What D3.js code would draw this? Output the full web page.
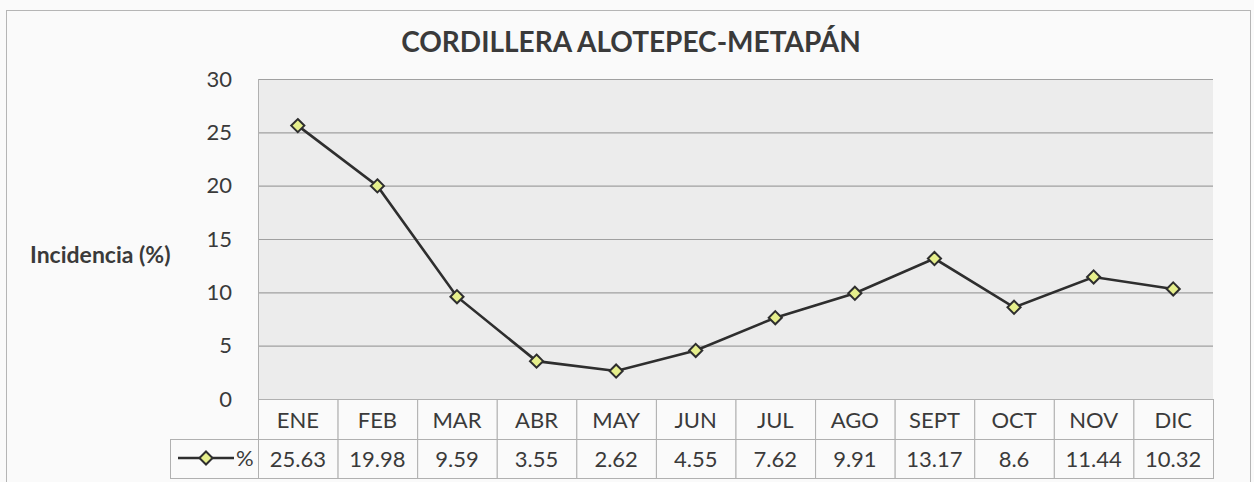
<!DOCTYPE html>
<html>
<head>
<meta charset="utf-8">
<script src="https://cdn.jsdelivr.net/npm/d3@7"></script>
<style>
  body { margin: 0; background: #fafafa; }
  text { font-family: Lato, "Open Sans", sans-serif; fill: #3a3a3a; }
</style>
</head>
<body>
<div id="chart"></div>
<script>
// months and incidence values
var months = ['ENE', 'FEB', 'MAR', 'ABR', 'MAY', 'JUN', 'JUL', 'AGO', 'SEPT', 'OCT', 'NOV', 'DIC'];
var incidencia = [25.63, 19.98, 9.59, 3.55, 2.62, 4.55, 7.62, 9.91, 13.17, 8.6, 11.44, 10.32];
var valueLabels = ['25.63', '19.98', '9.59', '3.55', '2.62', '4.55', '7.62', '9.91', '13.17', '8.6', '11.44', '10.32'];
var y_ticks = [0, 5, 10, 15, 20, 25, 30];

var width  = 1254;
var height = 482;
var plot_left = 258, plot_right = 1213, plot_top = 79, plot_bottom = 399;
var row_h = 40;

var svg = d3.select('#chart')
  .append('svg')
  .attr('width', width)
  .attr('height', height);

// chart frame
svg.append('rect')
  .attr('x', 6.5).attr('y', 10.5)
  .attr('width', 1244).attr('height', 480)
  .attr('fill', '#fafafa')
  .attr('stroke', '#b5b5b5');

var x_scale = d3.scaleBand()
  .domain(months)
  .range([plot_left, plot_right])
  .padding(0);

var y_scale = d3.scaleLinear()
  .domain([0, 30])
  .range([plot_bottom, plot_top]);

// plot background
svg.append('rect')
  .attr('x', plot_left).attr('y', plot_top)
  .attr('width', plot_right - plot_left)
  .attr('height', plot_bottom - plot_top)
  .attr('fill', '#ececec');

// gridlines
svg.append('g')
  .selectAll('line')
  .data(y_ticks)
  .enter()
  .append('line')
  .attr('x1', plot_left).attr('x2', plot_right)
  .attr('y1', function(d) { return y_scale(d) + 0.5; })
  .attr('y2', function(d) { return y_scale(d) + 0.5; })
  .attr('stroke', '#a0a0a0')
  .attr('stroke-width', 1.2);

svg.append('line')
  .attr('x1', plot_left + 0.5).attr('x2', plot_left + 0.5)
  .attr('y1', plot_top).attr('y2', plot_bottom)
  .attr('stroke', '#b0b0b0');

// y axis labels
var y_axis = d3.axisLeft(y_scale)
  .tickValues(y_ticks)
  .tickSize(0)
  .tickPadding(0);

var yg = svg.append('g')
  .attr('transform', 'translate(232,0)')
  .call(y_axis);
yg.select('.domain').remove();
yg.selectAll('text')
  .style('font-size', '22px')
  .style('font-family', 'Lato, "Open Sans", sans-serif')
  .attr('fill', '#3a3a3a');

// title
svg.append('text')
  .attr('x', 631).attr('y', 52)
  .attr('text-anchor', 'middle')
  .style('font-size', '28px')
  .style('font-weight', 'bold')
  .text('CORDILLERA ALOTEPEC-METAPÁN');

// y label
svg.append('text')
  .attr('x', 30).attr('y', 263)
  .style('font-size', '23px')
  .style('font-weight', 'bold')
  .text('Incidencia (%)');

// line
var line = d3.line()
  .x(function(d, i) { return x_scale(months[i]) + x_scale.bandwidth() / 2; })
  .y(function(d) { return y_scale(d); });

svg.append('path')
  .datum(incidencia)
  .attr('d', line)
  .attr('fill', 'none')
  .attr('stroke', '#2e2e2e')
  .attr('stroke-width', 2.6);

var diamond = d3.symbol().type(d3.symbolDiamond2).size(110);

svg.append('g')
  .selectAll('path')
  .data(incidencia)
  .enter()
  .append('path')
  .attr('d', diamond)
  .attr('transform', function(d, i) {
    return 'translate(' + (x_scale(months[i]) + x_scale.bandwidth() / 2) + ',' + y_scale(d) + ')';
  })
  .attr('fill', '#e6ef8c')
  .attr('stroke', '#2e2e2e')
  .attr('stroke-width', 2);

// data table
var table = svg.append('g');
var row1 = plot_bottom, row2 = plot_bottom + row_h, row3 = plot_bottom + 2 * row_h - 1;

table.selectAll('.cell-h')
  .data(months)
  .enter()
  .append('rect')
  .attr('x', function(d) { return x_scale(d) + 0.5; })
  .attr('y', row1 + 0.5)
  .attr('width', x_scale.bandwidth())
  .attr('height', row_h)
  .attr('fill', '#fafafa')
  .attr('stroke', '#b0b0b0');

table.selectAll('.cell-v')
  .data(months)
  .enter()
  .append('rect')
  .attr('x', function(d) { return x_scale(d) + 0.5; })
  .attr('y', row2 + 0.5)
  .attr('width', x_scale.bandwidth())
  .attr('height', row3 - row2)
  .attr('fill', '#fafafa')
  .attr('stroke', '#b0b0b0');

table.append('rect')
  .attr('x', 170.5).attr('y', row2 + 0.5)
  .attr('width', plot_left - 170).attr('height', row3 - row2)
  .attr('fill', '#fafafa')
  .attr('stroke', '#b0b0b0');

table.selectAll('.mlabel')
  .data(months)
  .enter()
  .append('text')
  .attr('x', function(d) { return x_scale(d) + x_scale.bandwidth() / 2; })
  .attr('y', row1 + 29)
  .attr('text-anchor', 'middle')
  .style('font-size', '22px')
  .text(function(d) { return d; });

table.selectAll('.vlabel')
  .data(valueLabels)
  .enter()
  .append('text')
  .attr('x', function(d, i) { return x_scale(months[i]) + x_scale.bandwidth() / 2; })
  .attr('y', row2 + 28)
  .attr('text-anchor', 'middle')
  .style('font-size', '22px')
  .text(function(d) { return d; });

// legend key in table
var ly = row2 + 19;
table.append('line')
  .attr('x1', 178).attr('x2', 234)
  .attr('y1', ly).attr('y2', ly)
  .attr('stroke', '#2e2e2e')
  .attr('stroke-width', 2.6);
table.append('path')
  .attr('d', diamond)
  .attr('transform', 'translate(206,' + ly + ')')
  .attr('fill', '#e6ef8c')
  .attr('stroke', '#2e2e2e')
  .attr('stroke-width', 2);
table.append('text')
  .attr('x', 236).attr('y', row2 + 27)
  .style('font-size', '22px')
  .text('%');
</script>
</body>
</html>
